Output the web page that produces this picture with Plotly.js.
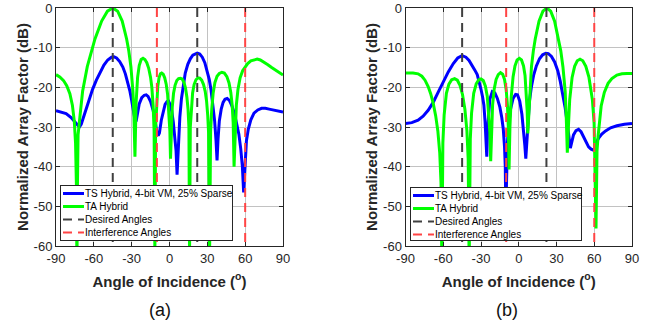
<!DOCTYPE html>
<html>
<head>
<meta charset="utf-8">
<script src="https://cdn.plot.ly/plotly-3.0.1.min.js"></script>
<style>html,body{margin:0;padding:0;background:#fff;}#chart{width:647px;height:321px;}</style>
</head>
<body>
<div id="chart"></div>
<script>
// ---------- data ----------
var seriesNames = ['TS Hybrid, 4-bit VM, 25% Sparse', 'TA Hybrid', 'Desired Angles', 'Interference Angles'];
var panelLabels = ['(a)', '(b)'];
var xTicks = [-90, -60, -30, 0, 30, 60, 90];
var yTicks = [-60, -50, -40, -30, -20, -10, 0];
var desiredAngles = [-45, 22];
var interferenceAngles = [-10, 60];

// (a) TS Hybrid
var angA_TS = [-90,-86,-82,-78,-75,-73,-71.5,-70,-68,-66,-63.5,-61,-58,-55,-52,-49,-46,-44,-42,-39.5,-37,-35,-33,-31.5,-30,-28.5,-27.3,-26.5,-25.5,-24,-22,-20,-18.5,-17,-15,-13,-11.5,-10.2,-9,-8,-6.5,-5,-3.5,-2,-0.7,0.5,1.8,3,4.2,5.2,6,7,8.2,9.5,11,12.5,14.5,16.5,18.5,20.5,22,24,26,28,30,31.5,33,34.5,35.8,36.9,37.7,38.5,39.5,41,42.5,44,45.7,47.5,49.5,51.5,53.5,55,56.5,57.8,58.8,59.8,61,62.5,64.5,67,70,73,76,79,82,86,90];
var afA_TS = [-25.9,-26.2,-26.6,-27.6,-28.8,-29.7,-30.0,-29.3,-27.3,-25.3,-22.8,-20.5,-18.2,-16.2,-14.4,-13.1,-12.4,-12.3,-12.6,-13.5,-14.9,-16.6,-18.8,-20.8,-23.3,-26,-28.3,-28.6,-26.5,-24.2,-22.6,-22.0,-21.9,-22.3,-23.6,-25.8,-28.3,-31.0,-32.2,-31.5,-28.3,-25.9,-24.3,-23.6,-23.5,-24.3,-26,-28.7,-32.5,-36,-42,-33,-27.5,-22.8,-19,-16.4,-14.2,-12.8,-11.9,-11.5,-11.4,-11.6,-12.4,-13.8,-15.9,-18,-20.8,-24.2,-28.5,-33.5,-38.4,-33,-28.5,-25.5,-23.8,-23,-22.8,-23.3,-24.7,-26.6,-29.2,-31.8,-35.5,-40,-46.5,-40,-33.5,-30.5,-28.2,-26.5,-25.7,-25.3,-25.3,-25.5,-25.7,-26,-26.2];

// (a) TA Hybrid
var angA_TA = [-90,-87,-84,-81.5,-79,-77,-75.5,-74.5,-73.8,-73.4,-73,-72.5,-70.9,-68.9,-65.2,-62,-59.1,-53.8,-49.2,-45,-41.1,-37.5,-34,-32.3,-30.6,-29,-28.2,-27.4,-26.5,-25.3,-24,-22.5,-21,-19.5,-18,-16.5,-15,-14,-13,-12.2,-11.6,-11,-10.2,-9.3,-8.3,-7.2,-6.2,-5,-3.8,-2.6,-1.5,-0.5,0.3,0.8,1.4,2.2,3.2,4.4,5.8,7.2,8.6,10,11.4,12.7,13.8,14.7,15.4,15.9,16.5,17.3,18.3,19.5,21,22.5,24,25.5,27,28.3,29.4,30.3,31,31.8,32.6,33.5,34.6,36,37.7,39.5,41.5,43.5,45.5,47.2,48.6,49.7,50.5,51.2,52,53,54.3,56,58,60,62,64.5,67,69.5,72,75,78,81,84,87,90];
var afA_TA = [-16.8,-17.4,-18.3,-19.6,-21.6,-24.5,-28.5,-34,-45,-66,-45,-32,-27,-21,-14.8,-10.8,-7.8,-3.3,-0.8,0,-0.8,-3.3,-7.8,-10.8,-14.8,-21,-27,-37.5,-24,-17.5,-14.5,-13,-12.7,-13,-13.8,-15.2,-17.5,-20,-24.5,-31,-62,-30,-23.5,-19.8,-17.6,-16.6,-16.4,-16.7,-17.6,-19.2,-21.8,-26,-31,-38,-30,-25,-21.5,-19.5,-18.3,-17.8,-17.7,-17.9,-18.7,-20.2,-22.5,-25.5,-30,-62,-30,-25,-21.5,-19.3,-18.1,-17.6,-17.7,-18.2,-19.3,-21,-23.5,-27,-31.5,-62,-31,-25.5,-21.5,-18.8,-17.2,-16.5,-16.2,-16.4,-17.3,-18.9,-21.3,-24.5,-29,-40,-30,-24.5,-20.5,-17.6,-15.8,-14.8,-14,-13.3,-13,-12.9,-13.1,-13.6,-14.3,-15,-15.7,-16.3,-16.9];

// (b) TS Hybrid
var angB_TS = [-90,-85,-80,-76,-72,-68,-64,-60,-56,-52,-48.5,-45,-42,-39.5,-37,-35,-33,-31.5,-30,-28.7,-27.7,-26.8,-26,-25.4,-24.8,-24,-23,-21,-19,-17,-15,-13.5,-12.3,-11.3,-10.7,-10.3,-9.8,-9,-8,-6.5,-4.5,-2.5,-1,0.8,2.5,3.8,4.8,5.6,6.4,7.3,8.5,10,11.8,14,16.5,19,21.5,23.5,26,28.5,31,33,35,36.8,38.5,40,41,42,43.5,45.5,47.5,49.5,51.5,53.5,55.5,57.5,59,60,61.5,63.5,66,69,73,78,84,90];
var afB_TS = [-29.1,-28.9,-28.3,-27.3,-25.8,-23.8,-21.2,-18.6,-16.1,-14,-12.6,-12,-12.4,-13.2,-14.4,-15.6,-16.8,-18.5,-20.5,-22.5,-24.5,-28.5,-33,-37.5,-31,-26,-23,-21.1,-21.4,-22.8,-25,-27.6,-30.5,-35,-40,-52,-41,-34,-29.5,-25.5,-22.8,-21.8,-21.9,-23.5,-26.8,-30.5,-34.5,-38,-33,-28,-23.5,-20,-17,-14.6,-12.8,-11.8,-11.4,-11.5,-12.2,-13.6,-15.8,-18.5,-21.8,-25,-29,-33,-35.3,-34,-32,-30.9,-30.6,-31.2,-32.5,-33.9,-35,-35.6,-35.8,-35.5,-34,-32.8,-31.8,-31,-30.2,-29.7,-29.3,-29.1];

// (b) TA Hybrid
var angB_TA = [-90,-84,-80,-77,-74.5,-72,-70,-68,-66,-64.3,-62.8,-61.8,-61.1,-60.3,-59.3,-57.5,-55.5,-53.3,-51,-48.8,-46.7,-44.7,-42.8,-41.2,-40.2,-39.4,-38.5,-37.5,-35.8,-33.8,-31.8,-30,-28.2,-26.5,-25,-23.8,-22.9,-22.3,-21.6,-20.8,-19.5,-18,-16.3,-14.5,-12.8,-11.3,-10,-9,-8.3,-7.7,-7,-6,-4.5,-3,-1.3,0.5,2.2,3.8,5,6,6.7,7.2,7.9,8.6,10.1,11.6,13.1,16.1,19.2,22.3,25.4,28.5,31.7,33.4,35.1,36.9,37.7,38.6,39.6,40.5,42.4,44.4,46.5,48.7,50.9,53.3,55.8,58.5,59.9,61.4,62.2,63,65.5,68,71,74,78,82,86,90];
var afB_TA = [-16.4,-16.4,-16.6,-17.2,-18.2,-19.8,-21.6,-24,-27.2,-31,-36.5,-44,-65,-34,-27,-21.5,-19.2,-18.1,-17.8,-18.2,-19.5,-21.8,-25.5,-31,-38,-65,-33,-26.5,-21.5,-19.1,-18.1,-17.9,-18.3,-19.7,-22.3,-26.5,-31.5,-38.6,-29.5,-24.5,-20.4,-18,-16.8,-16.3,-16.7,-18,-20.6,-24.5,-30,-40.7,-30,-22.5,-17.3,-14.6,-13.1,-12.7,-13.1,-14.6,-17,-21.5,-26,-31.6,-27,-21,-14.8,-10.8,-7.8,-3.3,-0.8,0,-0.8,-3.3,-7.8,-10.8,-14.8,-21,-27,-36.5,-29,-23.1,-17.5,-14.7,-13.3,-12.9,-13.3,-14.7,-17.5,-23.1,-29,-55.6,-36,-32.5,-24.7,-21.3,-19,-17.8,-16.9,-16.6,-16.5,-16.5];

// ---------- styling ----------
var FONT = 'Liberation Sans, Arial, Helvetica, sans-serif';
var yRange = [-60, 0];
var xRange = [-90, 90];

function vlines(angles) {
  var xs = [], ys = [];
  angles.forEach(function (a) { xs.push(a, a, null); ys.push(yRange[1], yRange[0], null); });
  return {x: xs, y: ys};
}

function panelTraces(xa, ya, legendId, angTS, afTS, angTA, afTA) {
  var d = vlines(desiredAngles), r = vlines(interferenceAngles);
  return [
    {x: angTS, y: afTS, xaxis: xa, yaxis: ya, legend: legendId, name: seriesNames[0], mode: 'lines',
     line: {color: '#0000ff', width: 3}},
    {x: angTA, y: afTA, xaxis: xa, yaxis: ya, legend: legendId, name: seriesNames[1], mode: 'lines',
     line: {color: '#00ff00', width: 3}},
    {x: d.x, y: d.y, xaxis: xa, yaxis: ya, legend: legendId, name: seriesNames[2], mode: 'lines',
     line: {color: '#404040', width: 2, dash: '9px,6px'}},
    {x: r.x, y: r.y, xaxis: xa, yaxis: ya, legend: legendId, name: seriesNames[3], mode: 'lines',
     line: {color: '#ff4444', width: 2, dash: '9px,6px'}}
  ];
}

var data = panelTraces('x', 'y', 'legend', angA_TS, afA_TS, angA_TA, afA_TA)
  .concat(panelTraces('x2', 'y2', 'legend2', angB_TS, afB_TS, angB_TA, afB_TA));

function xAxis(domain, anchor) {
  return {
    domain: domain, anchor: anchor, range: xRange, tickvals: xTicks, ticktext: xTicks.map(String),
    ticks: 'inside', ticklen: 4, tickcolor: '#262626', showline: true, mirror: 'ticks',
    linecolor: '#262626', linewidth: 1, showgrid: true, gridcolor: '#c2c2c2', gridwidth: 1,
    zeroline: false, tickfont: {family: FONT, size: 13, color: '#262626'},
    title: {text: 'Angle of Incidence (<sup>o</sup>)', standoff: 11,
            font: {family: FONT, size: 15, color: '#262626', weight: 'bold'}}
  };
}
function yAxis(domain, anchor) {
  return {
    domain: domain, anchor: anchor, range: yRange, tickvals: yTicks, ticktext: yTicks.map(String),
    ticks: 'inside', ticklen: 4, tickcolor: '#262626', showline: true, mirror: 'ticks',
    linecolor: '#262626', linewidth: 1, showgrid: true, gridcolor: '#c2c2c2', gridwidth: 1,
    zeroline: false, tickfont: {family: FONT, size: 13, color: '#262626'},
    title: {text: 'Normalized Array Factor (dB)', standoff: 1,
            font: {family: FONT, size: 15, color: '#262626', weight: 'bold'}}
  };
}

var W = 647, H = 321;
var yDom = [1 - 246 / H, 1 - 8 / H];
var legendStyle = {
  bgcolor: '#ffffff', bordercolor: '#262626', borderwidth: 1,
  font: {family: FONT, size: 10, color: '#000000'}, xanchor: 'left', yanchor: 'bottom',
  traceorder: 'normal', tracegroupgap: 0
};

var layout = {
  width: W, height: H, margin: {l: 0, r: 0, t: 0, b: 0},
  paper_bgcolor: '#ffffff', plot_bgcolor: '#ffffff',
  font: {family: FONT, color: '#262626'},
  showlegend: true,
  xaxis: xAxis([56 / W, 283 / W], 'y'),
  yaxis: yAxis(yDom, 'x'),
  xaxis2: xAxis([405.5 / W, 632 / W], 'y2'),
  yaxis2: yAxis(yDom, 'x2'),
  legend: Object.assign({x: 60 / W, y: 1 - 240 / H}, legendStyle),
  legend2: Object.assign({x: 410 / W, y: 1 - 240 / H}, legendStyle),
  annotations: [
    {text: panelLabels[0], xref: 'paper', yref: 'paper', x: 160 / W, y: 1 - 310 / H,
     xanchor: 'center', yanchor: 'middle', showarrow: false, font: {family: FONT, size: 18, color: '#111'}},
    {text: panelLabels[1], xref: 'paper', yref: 'paper', x: 507 / W, y: 1 - 310 / H,
     xanchor: 'center', yanchor: 'middle', showarrow: false, font: {family: FONT, size: 18, color: '#111'}}
  ]
};

var gd = document.getElementById('chart');

// compact legends like the reference (short samples, tight rows)
var legendBoxes = {legend: [60, 185, 172, 55], legend2: [410, 187, 171, 53]};
function tidy() {
  Object.keys(legendBoxes).forEach(function (id) {
    var b = legendBoxes[id];
    var g = gd.querySelector('g.infolayer > g.' + id);
    if (!g) return;
    var items = g.querySelectorAll('g.traces');
    if (!items.length) return;
    g.setAttribute('transform', 'translate(' + b[0] + ',' + b[1] + ')');
    var bg = g.querySelector('rect.bg');
    if (bg) { bg.setAttribute('width', b[2]); bg.setAttribute('height', b[3]); }
    items.forEach(function (it, i) {
      it.setAttribute('transform', 'translate(0,' + (8.5 + i * 13) + ')');
      it.querySelectorAll('path.js-line').forEach(function (p) { p.setAttribute('d', 'M3,0h21'); });
      it.querySelectorAll('text').forEach(function (t) {
        t.setAttribute('x', 25);
        t.querySelectorAll('tspan').forEach(function (s) { if (s.hasAttribute('x')) s.setAttribute('x', 25); });
      });
      it.querySelectorAll('rect').forEach(function (r) { r.setAttribute('width', b[2] - 2); r.setAttribute('height', 13); r.setAttribute('y', -6.5); });
    });
  });
}

Plotly.newPlot(gd, data, layout, {staticPlot: true, displayModeBar: false}).then(function () {
  tidy();
  gd.on('plotly_afterplot', function () { tidy(); });
  setTimeout(tidy, 30);
  setTimeout(tidy, 200);
});
</script>
</body>
</html>
